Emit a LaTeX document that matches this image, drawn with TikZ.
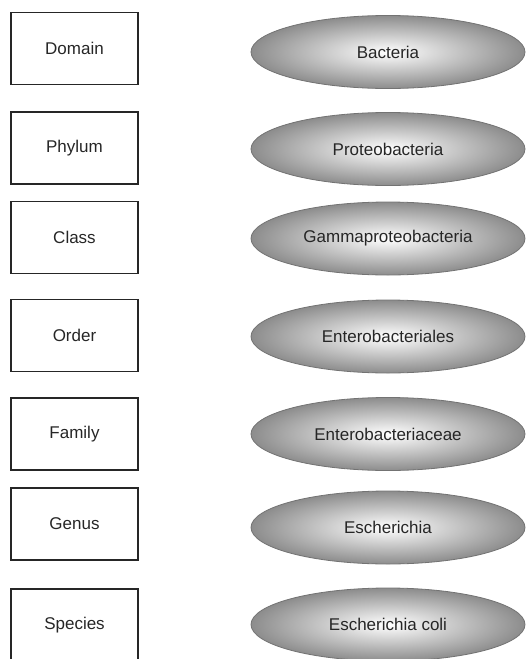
\documentclass[tikz,border=0pt]{standalone}
\usepackage{fontspec}
\setmainfont{Liberation Sans}
\usetikzlibrary{shapes.geometric}
\tikzset{%
    rnk/.style={rectangle, draw=black!85, line width=1.3pt, minimum width=127pt, minimum height=72pt, text=black!85, font=\fontsize{17}{20}\selectfont},
    tax/.style={ellipse, draw=black!55, line width=0.8pt, inner color=white, outer color=black!45, minimum width=274pt, minimum height=73pt, inner sep=0pt, text=black!85, font=\fontsize{17}{20}\selectfont}
}

\begin{document}
\begin{tikzpicture}[x=1pt,y=-1pt]
    \useasboundingbox (0,0) rectangle (530,659);
    \clip (0,0) rectangle (530,659);
    \node[rnk] (dom) at (74.5,48.5){Domain};
    \node[rnk] (phy) at (74.5,148){Phylum};
    \node[rnk] (cls) at (74.5,237.5){Class};
    \node[rnk] (ord) at (74.5,335.5){Order};
    \node[rnk] (fam) at (74.5,434){Family};
    \node[rnk] (gen) at (74.5,524){Genus};
    \node[rnk] (spc) at (74.5,625){Species};
    \node[tax] (bac) at (388,52){Bacteria};
    \node[tax] (pro) at (388,149){Proteobacteria};
    \node[tax] (gam) at (388,238.5){Gammaproteobacteria};
    \node[tax] (ebl) at (388,336.5){Enterobacteriales};
    \node[tax] (ebc) at (388,434){Enterobacteriaceae};
    \node[tax] (esc) at (388,527.5){Escherichia};
    \node[tax] (eco) at (388,624.5){Escherichia coli};
\end{tikzpicture}
\end{document}
